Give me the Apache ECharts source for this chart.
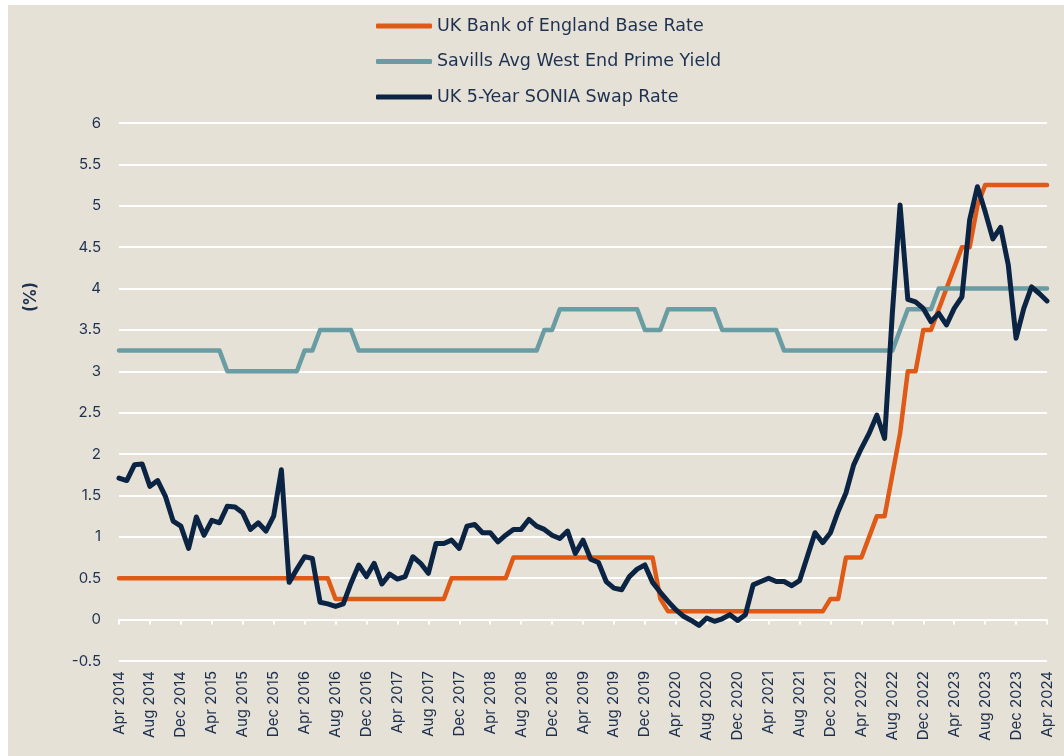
<!DOCTYPE html>
<html>
<head>
<meta charset="utf-8">
<script src="https://cdn.jsdelivr.net/npm/echarts@6/dist/echarts.min.js"></script>
<style>
  html, body { margin: 0; padding: 0; background: #ffffff; }
  #chart { width: 1064px; height: 756px; }
</style>
</head>
<body>
<div id="chart"></div>
<script>
// ---------- DATA ----------
const MONTH_NAMES = ['Jan','Feb','Mar','Apr','May','Jun','Jul','Aug','Sep','Oct','Nov','Dec'];
const START_MONTH = 3;   // Apr
const START_YEAR = 2014;
const N_MONTHS = 121;    // Apr 2014 .. Apr 2024

const categories = [];
for (let k = 0; k < N_MONTHS; k++) {
  const m = (START_MONTH + k) % 12;
  const y = START_YEAR + Math.floor((START_MONTH + k) / 12);
  categories.push(MONTH_NAMES[m] + ' ' + y);
}

const seriesNames = [
  'UK Bank of England Base Rate',
  'Savills Avg West End Prime Yield',
  'UK 5-Year SONIA Swap Rate'
];

const baseRate = [
  0.5,0.5,0.5,0.5,0.5,0.5,0.5,0.5,0.5,0.5,0.5,0.5,0.5,0.5,0.5,0.5,0.5,0.5,0.5,0.5,0.5,0.5,0.5,0.5,0.5,0.5,0.5,0.5,
  0.25,0.25,0.25,0.25,0.25,0.25,0.25,0.25,0.25,0.25,0.25,0.25,0.25,0.25,0.25,
  0.5,0.5,0.5,0.5,0.5,0.5,0.5,0.5,
  0.75,0.75,0.75,0.75,0.75,0.75,0.75,0.75,0.75,0.75,0.75,0.75,0.75,0.75,0.75,0.75,0.75,0.75,0.75,
  0.25,
  0.1,0.1,0.1,0.1,0.1,0.1,0.1,0.1,0.1,0.1,0.1,0.1,0.1,0.1,0.1,0.1,0.1,0.1,0.1,0.1,0.1,
  0.25,0.25,
  0.75,0.75,0.75,
  1.0,
  1.25,1.25,
  1.75,
  2.25,
  3.0,3.0,
  3.5,3.5,
  3.75,
  4.0,
  4.25,
  4.5,4.5,
  5.0,
  5.25,5.25,5.25,5.25,5.25,5.25,5.25,5.25,5.25
];

const savillsYield = [
  3.25,3.25,3.25,3.25,3.25,3.25,3.25,3.25,3.25,3.25,3.25,3.25,3.25,3.25,
  3.0,3.0,3.0,3.0,3.0,3.0,3.0,3.0,3.0,3.0,
  3.25,3.25,
  3.5,3.5,3.5,3.5,3.5,
  3.25,3.25,3.25,3.25,3.25,3.25,3.25,3.25,3.25,3.25,3.25,3.25,3.25,3.25,3.25,3.25,3.25,3.25,3.25,3.25,3.25,3.25,3.25,3.25,
  3.5,3.5,
  3.75,3.75,3.75,3.75,3.75,3.75,3.75,3.75,3.75,3.75,3.75,
  3.5,3.5,3.5,
  3.75,3.75,3.75,3.75,3.75,3.75,3.75,
  3.5,3.5,3.5,3.5,3.5,3.5,3.5,3.5,
  3.25,3.25,3.25,3.25,3.25,3.25,3.25,3.25,3.25,3.25,3.25,3.25,3.25,3.25,3.25,
  3.5,
  3.75,3.75,3.75,3.75,
  4.0,4.0,4.0,4.0,4.0,4.0,4.0,4.0,4.0,4.0,4.0,4.0,4.0,4.0,4.0
];

const soniaSwap = [
  1.71,1.68,1.87,1.88,1.61,1.68,1.49,1.19,1.13,0.86,
  1.24,1.02,1.20,1.17,1.37,1.36,1.29,1.09,1.17,1.07,
  1.25,1.81,0.45,0.61,0.76,0.74,0.21,0.19,0.16,0.19,
  0.44,0.66,0.52,0.68,0.43,0.55,0.49,0.52,0.76,0.68,
  0.56,0.92,0.92,0.96,0.86,1.13,1.15,1.05,1.05,0.94,
  1.02,1.09,1.09,1.21,1.13,1.09,1.02,0.98,1.07,0.80,
  0.96,0.73,0.69,0.46,0.38,0.36,0.52,0.61,0.66,0.45,
  0.33,0.22,0.12,0.04,-0.01,-0.07,0.02,-0.02,0.01,0.06,
  -0.01,0.06,0.42,0.46,0.50,0.46,0.46,0.41,0.47,0.76,
  1.05,0.93,1.05,1.31,1.53,1.87,2.07,2.25,2.47,2.19,
  3.70,5.01,3.87,3.84,3.76,3.60,3.70,3.56,3.76,3.90,
  4.83,5.23,4.93,4.60,4.74,4.28,3.40,3.76,4.02,3.94,
  3.85
];

const yTicks = { min: -0.5, max: 6, interval: 0.5 };
const yAxisTitle = '(%)';

// ---------- STYLE ----------
const COLORS = ['#E05A17', '#6A9CA4', '#0C2444'];
const TEXT = '#1E3150';
const BG = '#E5E1D6';
const FONT = 'Inter, "Open Sans", sans-serif';
const LEGEND_FONT = '"DejaVu Sans", Inter, sans-serif';

const chart = echarts.init(document.getElementById('chart'), null, { renderer: 'canvas' });

const lineSeries = [baseRate, savillsYield, soniaSwap].map((d, idx) => ({
  name: seriesNames[idx],
  type: 'line',
  data: d,
  xAxisIndex: 0,
  yAxisIndex: 0,
  showSymbol: false,
  symbol: 'none',
  smooth: false,
  z: 3 + idx,
  lineStyle: { color: COLORS[idx], width: idx === 2 ? 5 : 4.5, cap: 'round', join: 'round' },
  itemStyle: { color: COLORS[idx] },
  emphasis: { disabled: true }
}));

chart.setOption({
  backgroundColor: '#ffffff',
  animation: false,
  textStyle: { fontFamily: FONT },
  graphic: [
    { type: 'rect', z: -100, silent: true, shape: { x: 8, y: 5, width: 1064, height: 756 }, style: { fill: BG } },
    { type: 'text', left: 22, top: 282, silent: true,
      rotation: Math.PI / 2,
      style: { text: yAxisTitle, fill: TEXT, font: 'bold 17px ' + FONT } }
  ],
  legend: {
    orient: 'vertical',
    left: 371,
    top: 11,
    icon: 'roundRect',
    itemWidth: 56,
    itemHeight: 5,
    itemGap: 15.5,
    textStyle: { color: TEXT, fontSize: 17.5, lineHeight: 20, fontFamily: LEGEND_FONT },
    data: seriesNames.map((n, i) => ({ name: n, itemStyle: { color: COLORS[i] } }))
  },
  grid: { left: 119, right: 17, top: 123, bottom: 95, containLabel: false },
  xAxis: [
    {
      type: 'category',
      data: categories,
      boundaryGap: false,
      position: 'bottom',
      axisLine: { show: false, onZero: false },
      axisTick: { show: false },
      axisLabel: { interval: 3, rotate: 90, margin: 10, color: TEXT, fontSize: 15, fontFamily: FONT },
      splitLine: { show: false }
    },
    {
      type: 'category',
      data: categories,
      boundaryGap: false,
      position: 'bottom',
      axisLine: { show: true, onZero: true, lineStyle: { color: '#ffffff', width: 2 } },
      axisTick: { show: true, interval: 3, length: 5, lineStyle: { color: '#ffffff', width: 2 } },
      axisLabel: { show: false },
      splitLine: { show: false }
    }
  ],
  yAxis: {
    type: 'value',
    min: yTicks.min,
    max: yTicks.max,
    interval: yTicks.interval,
    axisLine: { show: false },
    axisTick: { show: false },
    axisLabel: { color: TEXT, fontSize: 15, margin: 18, fontFamily: FONT },
    splitLine: { show: true, lineStyle: { color: '#ffffff', width: 2 } }
  },
  series: lineSeries
});
</script>
</body>
</html>
